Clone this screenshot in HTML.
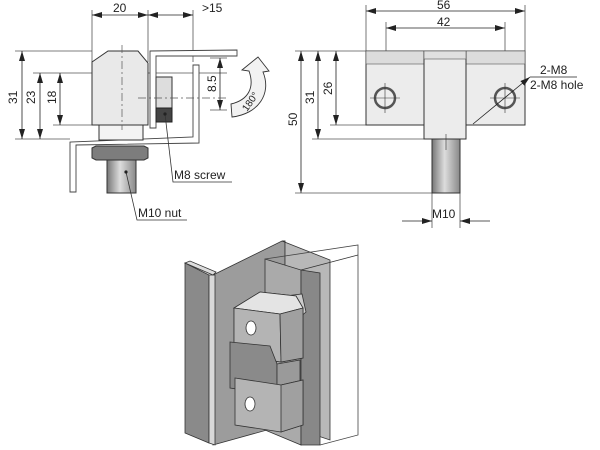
<!DOCTYPE html>
<html><head><meta charset="utf-8"><style>
html,body{margin:0;padding:0;background:#fff;width:600px;height:450px;overflow:hidden}
svg{display:block}
text{font-family:"Liberation Sans",sans-serif;fill:#222}
</style></head><body>
<svg width="600" height="450" viewBox="0 0 600 450" xmlns="http://www.w3.org/2000/svg">
<defs>
<marker id="a" viewBox="0 0 10 6" refX="10" refY="3" markerWidth="10" markerHeight="6" orient="auto-start-reverse" markerUnits="userSpaceOnUse"><path d="M0,0L10,3L0,6z" fill="#222"/></marker>
<linearGradient id="sh" x1="0" x2="1"><stop offset="0" stop-color="#777"/><stop offset=".45" stop-color="#ddd"/><stop offset="1" stop-color="#888"/></linearGradient>
</defs>
<g stroke="#555" stroke-width="0.8" fill="none">
<line x1="92" y1="10" x2="92" y2="62"/><line x1="148" y1="10" x2="148" y2="62"/><line x1="193" y1="10" x2="193" y2="62"/>
<line x1="15" y1="51" x2="92" y2="51"/><line x1="33" y1="73" x2="227" y2="73"/><line x1="53" y1="125" x2="92" y2="125"/><line x1="15" y1="139" x2="70" y2="139"/>
<line x1="210" y1="58" x2="227" y2="58"/><line x1="210" y1="110" x2="227" y2="110"/>
</g>
<g stroke="#222" stroke-width="0.8" fill="none" marker-start="url(#a)" marker-end="url(#a)">
<line x1="92" y1="15" x2="148" y2="15"/><line x1="148" y1="15" x2="193" y2="15"/>
<line x1="22" y1="51" x2="22" y2="139"/><line x1="40" y1="73" x2="40" y2="139"/><line x1="60" y1="73" x2="60" y2="125"/>
<line x1="220" y1="58" x2="220" y2="110"/>
<line x1="366" y1="11" x2="525" y2="11"/><line x1="386" y1="28" x2="505" y2="28"/>
<line x1="301" y1="51" x2="301" y2="193"/><line x1="318" y1="51" x2="318" y2="139"/><line x1="336" y1="51" x2="336" y2="125"/>
</g>
<g font-size="12">
<text x="113" y="12">20</text><text x="202" y="12">&gt;15</text>
<text transform="translate(17,104) rotate(-90)">31</text>
<text transform="translate(35,104) rotate(-90)">23</text>
<text transform="translate(56,104) rotate(-90)">18</text>
<text transform="translate(216,92) rotate(-90)">8.5</text>
</g>
<path d="M150,128 L150,51 L237,50 L237,56 L156,56 L156,128 Z" fill="#fff" stroke="#444" stroke-width="0.9"/>
<path d="M70,192 L70,142 L193,137 L193,65 L199,65 L199,143 L76,145 L76,192 Z" fill="#fff" stroke="#444" stroke-width="0.9"/>
<path d="M92,62 L108,51 L138,51 L148,63 L148,125 L92,125 Z" fill="#e9e9e9" stroke="#333"/>
<rect x="99" y="125" width="44" height="15" fill="#f3f3f3" stroke="#333"/>
<path d="M92,148 L96,146 L144,146 L148,148 L148,158 L144,160 L96,160 L92,158 Z" fill="#7d7d7d" stroke="#333"/>
<rect x="107" y="160" width="29" height="33" fill="url(#sh)" stroke="#333"/>
<rect x="156" y="77" width="16" height="31" fill="#ddd" stroke="#333"/>
<rect x="156" y="108" width="16" height="14" fill="#444" stroke="#222"/>
<g stroke="#555" stroke-width="0.7" stroke-dasharray="8,3,2,3" fill="none">
<line x1="122" y1="45" x2="122" y2="130"/><line x1="138" y1="98" x2="227" y2="98"/>
</g>
<path d="M232,117 C258,114 272,94 263,72 L269,71 L258,57 L242,70 L249,71 C255,88 248,100 231,104 Z" fill="#f2f2f2" stroke="#333" stroke-width="0.9"/>
<text transform="translate(247,112) rotate(-55)" font-size="10">180°</text>
<g stroke="#333" stroke-width="0.8" fill="none">
<polyline points="165,114 173,182 232,182"/><polyline points="126,172 137,220 187,220"/>
</g>
<circle cx="165" cy="114" r="1.6" fill="#222"/><circle cx="126" cy="172" r="1.6" fill="#222"/>
<text x="174" y="179" font-size="12">M8 screw</text><text x="138" y="217" font-size="12">M10 nut</text>

<g stroke="#555" stroke-width="0.8" fill="none">
<line x1="366" y1="5" x2="366" y2="51"/><line x1="525" y1="5" x2="525" y2="51"/>
<line x1="386" y1="22" x2="386" y2="115"/><line x1="505" y1="22" x2="505" y2="115"/>
<line x1="295" y1="51" x2="366" y2="51"/><line x1="312" y1="139" x2="424" y2="139"/><line x1="330" y1="125" x2="366" y2="125"/>
<line x1="295" y1="193" x2="432" y2="193"/>
<line x1="432" y1="193" x2="432" y2="228"/><line x1="460" y1="193" x2="460" y2="228"/>
</g>
<rect x="366" y="51" width="159" height="74" fill="#ececec" stroke="#333"/>
<rect x="366" y="51" width="159" height="13" fill="#dcdcdc" stroke="#555" stroke-width="0.6"/>
<rect x="424" y="51" width="42" height="88" fill="#ececec" stroke="#333"/>
<rect x="424" y="51" width="42" height="8" fill="#e0e0e0" stroke="#555" stroke-width="0.6"/>
<rect x="432" y="139" width="28" height="54" fill="url(#sh)" stroke="#333"/>
<circle cx="385" cy="98" r="10" fill="#eee" stroke="#555" stroke-width="2.5"/>
<circle cx="505" cy="98" r="10" fill="#eee" stroke="#555" stroke-width="2.5"/>
<g stroke="#333" stroke-width="0.6"><line x1="370" y1="98" x2="400" y2="98"/><line x1="385" y1="83" x2="385" y2="113"/><line x1="490" y1="98" x2="520" y2="98"/><line x1="505" y1="83" x2="505" y2="113"/><line x1="446" y1="134" x2="446" y2="150"/></g>
<line x1="473" y1="124" x2="530" y2="77" stroke="#222" stroke-width="0.8" marker-end="url(#a)"/>
<line x1="530" y1="77" x2="577" y2="77" stroke="#222" stroke-width="0.8"/>
<g stroke="#222" stroke-width="0.8" marker-end="url(#a)"><line x1="402" y1="221" x2="432" y2="221"/><line x1="490" y1="221" x2="460" y2="221"/></g>
<g font-size="12">
<text x="437" y="9">56</text><text x="437" y="26">42</text>
<text transform="translate(297,126) rotate(-90)">50</text>
<text transform="translate(314,104) rotate(-90)">31</text>
<text transform="translate(332,95) rotate(-90)">26</text>
<text x="540" y="74">2-M8</text><text x="530" y="89">2-M8 hole</text>
<text x="432" y="218">M10</text>
</g>

<g stroke="#333" stroke-width="0.8">
<path d="M213,275 L282,241 L285,241 L285,425 L213,445 Z" fill="#9c9c9c"/>
<path d="M282,241 L330,260 L330,440 L285,425 L285,241 Z" fill="#b8b8b8"/>
<path d="M185,263 L209,275 L209,443 L185,433 Z" fill="#8a8a8a"/>
<path d="M209,275 L215,275 L215,445 L209,443 Z" fill="#d8d8d8"/>
<path d="M185,263 L190,261 L216,272 L213,275 Z" fill="#ddd"/>
<path d="M265,259 L301,270 L301,445 L265,430 Z" fill="#aaa"/>
<path d="M301,270 L320,273 L320,445 L301,445 Z" fill="#888"/>
<path d="M265,259 L358,245 L358,435 L320,445" fill="none" stroke="#444"/>
<path d="M301,270 L358,255" fill="none"/>
<path d="M285,296 L302,294 L306,312 L299,318 Z" fill="#ccc"/>
<path d="M234,308 L260,292 L296,296 L303,308 L303,358 L281,362 L234,355 Z" fill="#d2d2d2"/>
<path d="M234,308 L280,314 L303,308 L296,296 L260,292 Z" fill="#e4e4e4"/>
<path d="M234,308 L280,314 L281,362 L234,355 Z" fill="#b4b4b4"/>
<path d="M280,314 L303,308 L303,358 L281,362 Z" fill="#a0a0a0"/>
<path d="M230,342 L270,346 L277,364 L277,395 L230,388 Z" fill="#8a8a8a"/>
<path d="M277,364 L300,360 L300,392 L277,395 Z" fill="#9a9a9a"/>
<path d="M235,378 L281,385 L303,380 L303,425 L281,432 L235,425 Z" fill="#b4b4b4"/>
<path d="M281,385 L303,380 L303,425 L281,432 Z" fill="#a0a0a0"/>
<ellipse cx="251" cy="328" rx="5" ry="7" fill="#fff"/><ellipse cx="250" cy="404" rx="5" ry="7" fill="#fff"/>
</g>
</svg>
</body></html>
